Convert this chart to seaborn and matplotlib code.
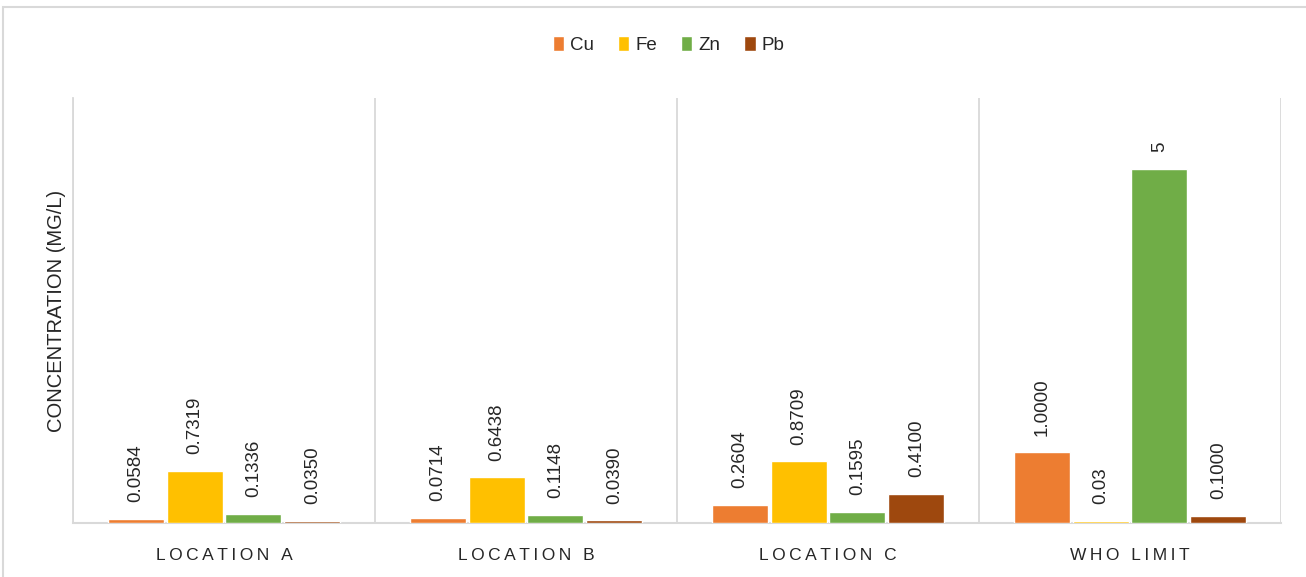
import numpy as np
import pandas as pd
import matplotlib
matplotlib.use("Agg")
import matplotlib.pyplot as plt
import seaborn as sns
from matplotlib.patches import Rectangle

categories = ["LOCATION A", "LOCATION B", "LOCATION C", "WHO LIMIT"]
metals = ["Cu", "Fe", "Zn", "Pb"]
cu = [0.0584, 0.0714, 0.2604, 1.0]
fe = [0.7319, 0.6438, 0.8709, 0.03]
zn = [0.1336, 0.1148, 0.1595, 5.0]
pb = [0.0350, 0.0390, 0.4100, 0.1]
cu_labels = ["0.0584", "0.0714", "0.2604", "1.0000"]
fe_labels = ["0.7319", "0.6438", "0.8709", "0.03"]
zn_labels = ["0.1336", "0.1148", "0.1595", "5"]
pb_labels = ["0.0350", "0.0390", "0.4100", "0.1000"]
colors = ["#ED7D31", "#FFC000", "#70AD47", "#9E480E"]

series = {"Cu": cu, "Fe": fe, "Zn": zn, "Pb": pb}
labels = {"Cu": cu_labels, "Fe": fe_labels, "Zn": zn_labels, "Pb": pb_labels}
rows = []
for m in metals:
    for c, v in zip(categories, series[m]):
        rows.append({"Location": c, "Metal": m, "Value": v})
df = pd.DataFrame(rows)

sns.set_theme(style="white")
plt.rcParams["font.family"] = ["Liberation Sans", "DejaVu Sans"]

fig = plt.figure(figsize=(13.06, 5.77), dpi=100)
ax = fig.add_axes([73/1306, 1 - 523/577, (1281 - 73)/1306, (523 - 98)/577])

sns.barplot(data=df, x="Location", y="Value", hue="Metal", order=categories,
            hue_order=metals, palette=colors, width=0.78, gap=0.05,
            saturation=1, ax=ax, legend=True, zorder=3)

for cont, m in zip(ax.containers, metals):
    for p in cont:
        p.set_zorder(3)
    ax.bar_label(cont, labels=labels[m], rotation=90, padding=12,
                 fontsize=13.5, color="#262626")

ax.set_ylim(0, 6)
ax.set_xlim(-0.5, len(categories) - 0.5)
ax.set_yticks([])
ax.set_xticks(np.arange(-0.5, len(categories)), minor=True)
ax.grid(False)
ax.grid(True, which="minor", axis="x", color="#D9D9D9", linewidth=1.3, zorder=0)
ax.set_axisbelow(True)
spaced = ["\u2009".join(list(c)) for c in categories]
ax.set_xticks(np.arange(len(categories)))
ax.set_xticklabels(spaced)
ax.tick_params(axis="x", which="both", length=0, pad=18, labelsize=12.5,
               colors="#262626")
ax.set_xlabel("")
ax.set_ylabel("CONCENTRATION (MG/L)", fontsize=14.5, color="#262626", labelpad=5)
for s in ["top", "right"]:
    ax.spines[s].set_visible(False)
ax.spines["left"].set_color("#D9D9D9")
ax.spines["left"].set_linewidth(1.3)
ax.spines["bottom"].set_color("#D9D9D9")
ax.spines["bottom"].set_linewidth(1.5)
ax.spines["bottom"].set_zorder(1)
ax.spines["left"].set_zorder(1)

leg = ax.legend(loc="center", bbox_to_anchor=(0.512, 1 - 45/577), bbox_transform=fig.transFigure,
                ncol=4, frameon=False, fontsize=13.5, handlelength=0.6, handleheight=0.8,
                handletextpad=0.3, columnspacing=1.3)

fig.patches.append(Rectangle((3/1306, -0.01), 1.0, 1 - 7/577 + 0.01,
                             transform=fig.transFigure, fill=False,
                             edgecolor="#D9D9D9", linewidth=1.5))

fig.savefig("out.png", dpi=100)
